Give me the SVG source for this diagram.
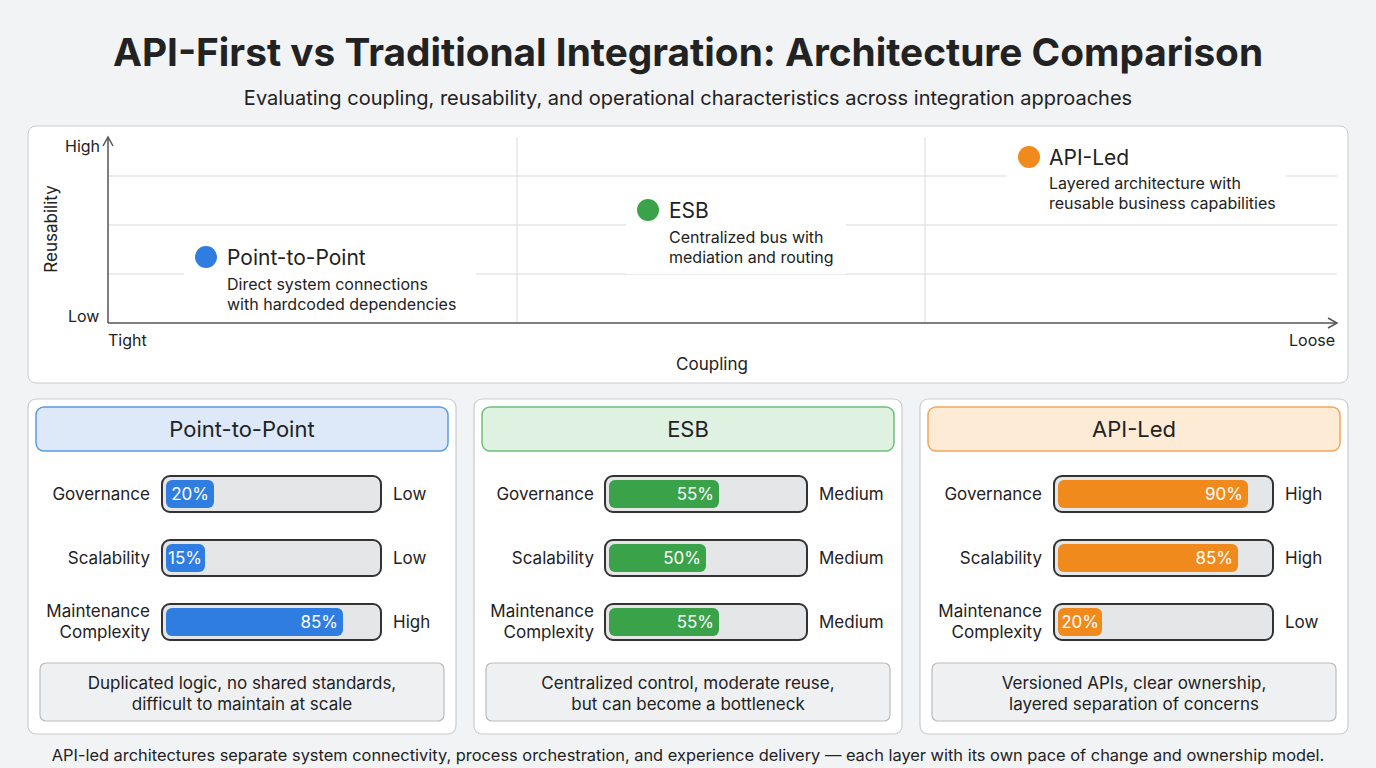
<svg xmlns="http://www.w3.org/2000/svg" width="1376" height="768" viewBox="0 0 1376 768">
<defs>
<marker id="ar" markerWidth="12" markerHeight="12" refX="10" refY="6" orient="auto" markerUnits="userSpaceOnUse"><path d="M1,1 L10,6 L1,11" fill="none" stroke="#555" stroke-width="1.5"/></marker>
<style>
text{font-family:Inter,"Noto Sans","Liberation Sans",sans-serif;fill:#222}
.t{font-size:16px}.m{font-size:17px}
.grid{stroke:#d6d9dc;stroke-width:1}
.track{fill:#e4e6e8;stroke:#333;stroke-width:2}
.pct{font-size:17px;fill:#fff;text-anchor:end}
.lab{font-size:17px;text-anchor:end}
.foot{fill:#eef0f2;stroke:#bbb;stroke-width:1.2}
.card{fill:#fff;stroke:#ccc;stroke-width:1.2}
</style>
</defs>
<rect width="1376" height="768" fill="#f1f3f5"/>
<text x="688" y="66" text-anchor="middle" font-size="38.8" font-weight="bold">API-First vs Traditional Integration: Architecture Comparison</text>
<text x="688" y="105" text-anchor="middle" font-size="20">Evaluating coupling, reusability, and operational characteristics across integration approaches</text>
<g id="chart">
<rect x="28" y="126" width="1320" height="257" rx="8" fill="#fff" stroke="#ccc"/>
<line class="grid" x1="108" y1="176" x2="1337" y2="176"/>
<line class="grid" x1="108" y1="225" x2="1337" y2="225"/>
<line class="grid" x1="108" y1="274" x2="1337" y2="274"/>
<line class="grid" x1="517" y1="137" x2="517" y2="323"/>
<line class="grid" x1="925" y1="137" x2="925" y2="323"/>
<line x1="108" y1="323" x2="108" y2="137" stroke="#555" stroke-width="1.5" marker-end="url(#ar)"/>
<line x1="108" y1="323" x2="1337" y2="323" stroke="#555" stroke-width="1.5" marker-end="url(#ar)"/>
<text x="65" y="152" class="t">High</text>
<text x="68" y="322" class="t">Low</text>
<text x="108" y="346" class="t">Tight</text>
<text x="1335" y="346" class="t" text-anchor="end">Loose</text>
<text x="712" y="370" class="m" text-anchor="middle">Coupling</text>
<text transform="translate(57,229) rotate(-90)" class="m" text-anchor="middle">Reusability</text>
</g>
<g id="pt-p2p">
<rect x="184" y="240" width="292" height="80" fill="#fff"/>
<circle cx="206" cy="257" r="11" fill="#2f7de1"/>
<text x="227" y="265" font-size="21">Point-to-Point</text>
<text x="227" y="290" class="t">Direct system connections</text>
<text x="227" y="310" class="t">with hardcoded dependencies</text>
</g>
<g id="pt-esb">
<rect x="626" y="194" width="220" height="80" fill="#fff"/>
<circle cx="648" cy="210" r="11" fill="#3aa34a"/>
<text x="669" y="218" font-size="21">ESB</text>
<text x="669" y="243" class="t">Centralized bus with</text>
<text x="669" y="263" class="t">mediation and routing</text>
</g>
<g id="pt-api">
<rect x="1006" y="141" width="280" height="78" fill="#fff"/>
<circle cx="1029" cy="157" r="11" fill="#f08a1c"/>
<text x="1049" y="165" font-size="21">API-Led</text>
<text x="1049" y="189" class="t">Layered architecture with</text>
<text x="1049" y="209" class="t">reusable business capabilities</text>
</g>
<g id="card-p2p">
<rect class="card" x="28" y="399" width="428" height="335" rx="8"/>
<rect x="36" y="407" width="412" height="44" rx="8" fill="#dde9f8" stroke="#5b9be0" stroke-width="1.5"/>
<text x="242" y="437" text-anchor="middle" font-size="22">Point-to-Point</text>
<text x="150" y="500" class="lab">Governance</text>
<rect class="track" x="162" y="476" width="219" height="36" rx="8"/>
<rect x="166" y="480" width="48" height="28" rx="6" fill="#2f7de1"/>
<text x="209" y="500" class="pct">20%</text>
<text x="393" y="500" class="m">Low</text>
<text x="150" y="564" class="lab">Scalability</text>
<rect class="track" x="162" y="540" width="219" height="36" rx="8"/>
<rect x="166" y="544" width="39" height="28" rx="6" fill="#2f7de1"/>
<text x="202" y="564" class="pct">15%</text>
<text x="393" y="564" class="m">Low</text>
<text x="150" y="617" class="lab">Maintenance</text>
<text x="150" y="638" class="lab">Complexity</text>
<rect class="track" x="162" y="604" width="219" height="36" rx="8"/>
<rect x="166" y="608" width="177" height="28" rx="6" fill="#2f7de1"/>
<text x="338" y="628" class="pct">85%</text>
<text x="393" y="628" class="m">High</text>
<rect class="foot" x="40" y="663" width="404" height="58" rx="6"/>
<text x="242" y="689" class="m" text-anchor="middle">Duplicated logic, no shared standards,</text>
<text x="242" y="710" class="m" text-anchor="middle">difficult to maintain at scale</text>
</g>
<g id="card-esb">
<rect class="card" x="474" y="399" width="428" height="335" rx="8" stroke="#9fd3a6"/>
<rect x="482" y="407" width="412" height="44" rx="8" fill="#dff2e1" stroke="#6cc07a" stroke-width="1.5"/>
<text x="688" y="437" text-anchor="middle" font-size="22">ESB</text>
<text x="594" y="500" class="lab">Governance</text>
<rect class="track" x="605" y="476" width="202" height="36" rx="8"/>
<rect x="609" y="480" width="110" height="28" rx="6" fill="#3aa34a"/>
<text x="714" y="500" class="pct">55%</text>
<text x="819" y="500" class="m">Medium</text>
<text x="594" y="564" class="lab">Scalability</text>
<rect class="track" x="605" y="540" width="202" height="36" rx="8"/>
<rect x="609" y="544" width="97" height="28" rx="6" fill="#3aa34a"/>
<text x="701" y="564" class="pct">50%</text>
<text x="819" y="564" class="m">Medium</text>
<text x="594" y="617" class="lab">Maintenance</text>
<text x="594" y="638" class="lab">Complexity</text>
<rect class="track" x="605" y="604" width="202" height="36" rx="8"/>
<rect x="609" y="608" width="110" height="28" rx="6" fill="#3aa34a"/>
<text x="714" y="628" class="pct">55%</text>
<text x="819" y="628" class="m">Medium</text>
<rect class="foot" x="486" y="663" width="404" height="58" rx="6"/>
<text x="688" y="689" class="m" text-anchor="middle">Centralized control, moderate reuse,</text>
<text x="688" y="710" class="m" text-anchor="middle">but can become a bottleneck</text>
</g>
<g id="card-api">
<rect class="card" x="920" y="399" width="428" height="335" rx="8"/>
<rect x="928" y="407" width="412" height="44" rx="8" fill="#fdebd6" stroke="#f2a65a" stroke-width="1.5"/>
<text x="1134" y="437" text-anchor="middle" font-size="22">API-Led</text>
<text x="1042" y="500" class="lab">Governance</text>
<rect class="track" x="1054" y="476" width="219" height="36" rx="8"/>
<rect x="1058" y="480" width="190" height="28" rx="6" fill="#f08a1c"/>
<text x="1243" y="500" class="pct">90%</text>
<text x="1285" y="500" class="m">High</text>
<text x="1042" y="564" class="lab">Scalability</text>
<rect class="track" x="1054" y="540" width="219" height="36" rx="8"/>
<rect x="1058" y="544" width="180" height="28" rx="6" fill="#f08a1c"/>
<text x="1233" y="564" class="pct">85%</text>
<text x="1285" y="564" class="m">High</text>
<text x="1042" y="617" class="lab">Maintenance</text>
<text x="1042" y="638" class="lab">Complexity</text>
<rect class="track" x="1054" y="604" width="219" height="36" rx="8"/>
<rect x="1058" y="608" width="44" height="28" rx="6" fill="#f08a1c"/>
<text x="1099" y="628" class="pct">20%</text>
<text x="1285" y="628" class="m">Low</text>
<rect class="foot" x="932" y="663" width="404" height="58" rx="6"/>
<text x="1134" y="689" class="m" text-anchor="middle">Versioned APIs, clear ownership,</text>
<text x="1134" y="710" class="m" text-anchor="middle">layered separation of concerns</text>
</g>
<g id="connectors"></g>
<text x="688" y="761" font-size="16.4" text-anchor="middle">API-led architectures separate system connectivity, process orchestration, and experience delivery — each layer with its own pace of change and ownership model.</text>
</svg>
